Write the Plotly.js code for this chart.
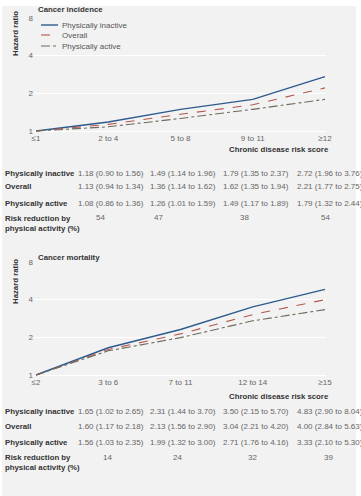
<!DOCTYPE html>
<html>
<head>
<meta charset="utf-8">
<script src="https://cdn.plot.ly/plotly-3.0.1.min.js"></script>
<style>html,body{margin:0;padding:0;background:#fff;}#chart{width:361px;height:496px;}</style>
</head>
<body>
<div id="chart"></div>
<script>
// ---- Data ----
const seriesNames = ["Physically inactive", "Overall", "Physically active"];
const incidenceCategories = ["≤1", "2 to 4", "5 to 8", "9 to 11", "≥12"];
const mortalityCategories = ["≤2", "3 to 6", "7 to 11", "12 to 14", "≥15"];

// Cancer incidence: hazard ratios (reference group = 1)
const incInactiveHR = [1, 1.18, 1.49, 1.79, 2.72];
const incInactiveLo = [null, 0.90, 1.14, 1.35, 1.96];
const incInactiveHi = [null, 1.56, 1.96, 2.37, 3.76];
const incOverallHR = [1, 1.13, 1.36, 1.62, 2.21];
const incOverallLo = [null, 0.94, 1.14, 1.35, 1.77];
const incOverallHi = [null, 1.34, 1.62, 1.94, 2.75];
const incActiveHR = [1, 1.08, 1.26, 1.49, 1.79];
const incActiveLo = [null, 0.86, 1.01, 1.17, 1.32];
const incActiveHi = [null, 1.36, 1.59, 1.89, 2.44];
const incRiskReduction = [54, 47, 38, 54];

// Cancer mortality
const morInactiveHR = [1, 1.65, 2.31, 3.50, 4.83];
const morInactiveLo = [null, 1.02, 1.44, 2.15, 2.90];
const morInactiveHi = [null, 2.65, 3.70, 5.70, 8.04];
const morOverallHR = [1, 1.60, 2.13, 3.04, 4.00];
const morOverallLo = [null, 1.17, 1.56, 2.21, 2.84];
const morOverallHi = [null, 2.18, 2.90, 4.20, 5.63];
const morActiveHR = [1, 1.56, 1.99, 2.71, 3.33];
const morActiveLo = [null, 1.03, 1.32, 1.76, 2.10];
const morActiveHi = [null, 2.35, 3.00, 4.16, 5.30];
const morRiskReduction = [14, 24, 32, 39];

const yTickVals = [1, 2, 4, 8];
const yTickText = ["1", "2", "4", "8"];

// ---- Styling / layout helpers ----
const W = 361, H = 496;
const FONT = "'Liberation Sans', Arial, sans-serif";
const px = x => x / W;
const py = y => 1 - y / H;
const colors = ["#2e5b8e", "#b4574d", "#6e6a5c"];
const dashes = ["solid", "dash", "dashdot"];
const widths = [1.4, 1.1, 1.1];
const labelColor = "#333333";
const valueColor = "#666666";
const FS = 8;      // values / ticks
const BFS = 7.8;   // bold labels

const panels = [
  { cats: incidenceCategories, hr: [incInactiveHR, incOverallHR, incActiveHR],
    lo: [incInactiveLo, incOverallLo, incActiveLo], hi: [incInactiveHi, incOverallHi, incActiveHi],
    rr: incRiskReduction, title: "Cancer incidence",
    plotTop: 18, plotBottom: 132, titleY: 10, hrTitleY: 34, xTitleY: 149,
    rowY: [173, 187, 203, 223], rrX: [100, 158, 245, 325], legend: true },
  { cats: mortalityCategories, hr: [morInactiveHR, morOverallHR, morActiveHR],
    lo: [morInactiveLo, morOverallLo, morActiveLo], hi: [morInactiveHi, morOverallHi, morActiveHi],
    rr: morRiskReduction, title: "Cancer mortality",
    plotTop: 262, plotBottom: 376, titleY: 257, hrTitleY: 282, xTitleY: 396,
    rowY: [411, 426, 442, 462], rrX: [107, 177, 252, 328], legend: false }
];
const valueColX = [76, 148, 221, 295];

const traces = [];
const annotations = [];
const shapes = [
  { type: "rect", xref: "paper", yref: "paper", x0: px(2), x1: px(356), y0: 0, y1: py(6),
    fillcolor: "#f2f2f2", line: { width: 0 }, layer: "below" }
];
const layout = {
  width: W, height: H, margin: { l: 0, r: 0, t: 0, b: 0 },
  paper_bgcolor: "#ffffff", plot_bgcolor: "#e9e9e9",
  showlegend: false, font: { family: FONT, size: FS, color: valueColor },
  annotations, shapes
};

const fmt = v => v.toFixed(2);

panels.forEach((p, i) => {
  const xa = i === 0 ? "x" : "x2", ya = i === 0 ? "y" : "y2";
  const xKey = i === 0 ? "xaxis" : "xaxis2", yKey = i === 0 ? "yaxis" : "yaxis2";
  const xIdx = p.cats.map((c, k) => k);
  layout[xKey] = {
    domain: [px(34), px(326)], range: [-0.028, 4.014], anchor: ya,
    tickvals: xIdx, ticktext: p.cats, showgrid: false, zeroline: false, showline: false,
    ticks: "", tickfont: { family: FONT, size: FS, color: valueColor }, fixedrange: true
  };
  layout[yKey] = {
    type: "log", domain: [py(p.plotBottom), py(p.plotTop)], range: [-0.008, Math.log10(8)], anchor: xa,
    tickvals: yTickVals, ticktext: yTickText, showgrid: true, gridcolor: "#ffffff", gridwidth: 1,
    zeroline: false, showline: false, ticks: "", tickfont: { family: FONT, size: FS, color: valueColor },
    fixedrange: true
  };
  p.hr.forEach((vals, s) => {
    traces.push({
      type: "scatter", mode: "lines", name: seriesNames[s], x: xIdx, y: vals,
      xaxis: xa, yaxis: ya, line: { color: colors[s], width: widths[s], dash: dashes[s] },
      hoverinfo: "skip"
    });
  });

  const ann = (text, x, y, opt = {}) => annotations.push(Object.assign({
    text, x: px(x), y: py(y), xref: "paper", yref: "paper", showarrow: false,
    xanchor: "left", yanchor: "middle", font: { family: FONT, size: FS, color: valueColor }
  }, opt));
  const bold = { family: FONT, size: BFS, color: labelColor };

  ann("<b>" + p.title + "</b>", 36, p.titleY, { font: bold });
  ann("<b>Hazard ratio</b>", 15, p.hrTitleY, { textangle: -90, xanchor: "center", font: bold });
  ann("<b>Chronic disease risk score</b>", 331, p.xTitleY, { xanchor: "right", font: bold });

  // table
  seriesNames.forEach((name, s) => {
    ann("<b>" + name + "</b>", 3, p.rowY[s], { font: bold });
    for (let k = 1; k < p.hr[s].length; k++) {
      ann(fmt(p.hr[s][k]) + " (" + fmt(p.lo[s][k]) + " to " + fmt(p.hi[s][k]) + ")",
        valueColX[k - 1], p.rowY[s]);
    }
  });
  ann("<b>Risk reduction by<br>physical activity (%)</b>", 3, p.rowY[3], { align: "left", font: bold });
  p.rr.forEach((v, k) => ann(String(v), p.rrX[k], p.rowY[3] - 5, { xanchor: "center" }));

  if (p.legend) {
    const legY = [25, 35, 46];
    seriesNames.forEach((name, s) => {
      shapes.push({ type: "line", xref: "paper", yref: "paper", x0: px(41), x1: px(58),
        y0: py(legY[s]), y1: py(legY[s]), line: { color: colors[s], width: widths[s], dash: dashes[s] } });
      ann(name, 60, legY[s], { font: { family: FONT, size: FS, color: "#555555" } });
    });
  }
});

Plotly.newPlot("chart", traces, layout, { displayModeBar: false, staticPlot: true });
</script>
</body>
</html>
